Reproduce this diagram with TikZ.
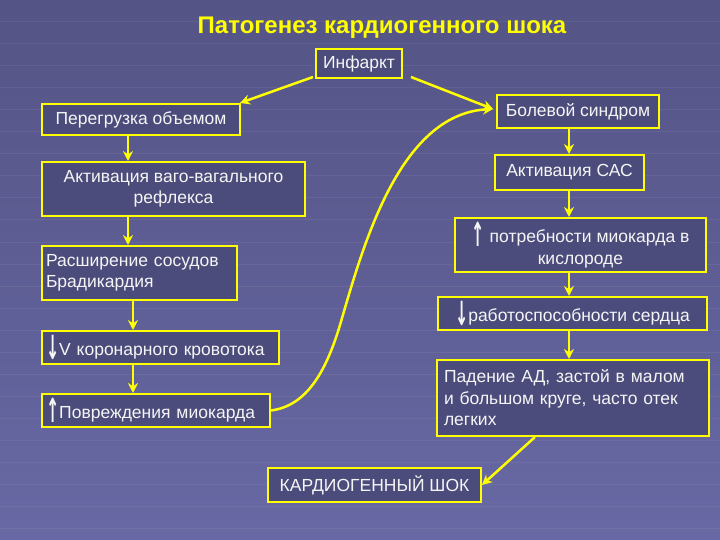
\documentclass[tikz,border=0pt]{standalone}
\usepackage{fontspec}
\setmainfont{Liberation Sans}
\newfontfamily\arrfont{DejaVu Sans}
\usetikzlibrary{arrows.meta}
\definecolor{bgtop}{RGB}{84,84,134}
\definecolor{bgbot}{RGB}{104,104,164}
\definecolor{boxfill}{RGB}{76,76,124}
\definecolor{ylw}{RGB}{255,255,0}
\definecolor{txt}{RGB}{245,245,245}
\tikzset{
  box/.style={draw=ylw, line width=2pt, fill=boxfill, text=txt, inner sep=3pt,
    font=\fontsize{17.5}{21.5}\selectfont, align=center},
  lbox/.style={box, align=left},
  conn/.style={draw=ylw, line width=2.5pt, -{Stealth[length=10pt,width=10pt]}}
}
\newcommand{\upa}{\raisebox{-4pt}{\scalebox{0.9}[1.9]{\arrfont\bfseries↑}}}
\newcommand{\dna}{\raisebox{-4pt}{\scalebox{0.9}[1.9]{\arrfont\bfseries↓}}}
\begin{document}
\begin{tikzpicture}[x=1pt,y=-1pt]
\shade[top color=bgtop, bottom color=bgbot] (0,0) rectangle (720,540);
\useasboundingbox (0,0) rectangle (720,540);
% faint background grid
\foreach \yy in {22,44,...,530} {
  \draw[white, opacity=0.06, line width=1pt] (0,\yy) -- (720,\yy);
}
\node[text=ylw, font=\bfseries\fontsize{24}{28}\selectfont] (title) at (382,28) {Патогенез кардиогенного шока};

\node[box, minimum width=86pt, minimum height=29pt] (inf) at (359,63.5) {Инфаркт};
\node[box, minimum width=198pt, minimum height=31pt] (per) at (141,119.5) {Перегрузка объемом};
\node[box, minimum width=162pt, minimum height=33pt] (bol) at (578,111.5) {Болевой синдром};
\node[box, minimum width=263pt, minimum height=54pt] (vag) at (173.5,189) {Активация ваго-вагального\\рефлекса};
\node[box, minimum width=149pt, minimum height=35pt] (sas) at (569.5,172.5) {Активация САС};
\node[box, minimum width=251pt, minimum height=54pt] (potr) at (580.5,245) {\upa\ потребности миокарда в\\кислороде};
\node[lbox, minimum width=195pt, minimum height=54pt, text width=187pt] (ras) at (139.5,273) {Расширение сосудов\\Брадикардия};
\node[box, minimum width=269pt, minimum height=33pt] (rab) at (572.5,313.5) {\dna работоспособности сердца};
\node[lbox, minimum width=237pt, minimum height=33pt, text width=229pt] (kor) at (160.5,347.5) {\dna V коронарного кровотока};
\node[lbox, minimum width=272pt, minimum height=76pt, text width=258pt] (pad) at (573,398) {Падение АД, застой в малом\\и большом круге, часто отек\\легких};
\node[lbox, minimum width=228pt, minimum height=33pt, text width=220pt] (pov) at (156,410.5) {\upa Повреждения миокарда};
\node[box, minimum width=213pt, minimum height=34pt] (shok) at (374.5,485) {КАРДИОГЕННЫЙ ШОК};

% connectors
\coordinate (inl) at (313,77);
\coordinate (inr) at (411,77);
\coordinate (perTip) at (240,103);
\coordinate (bolTip) at (493,109);
\draw[conn] (inl) -- (perTip);
\draw[conn] (inr) -- (bolTip);

\draw[conn] (per.south -| 128,0) -- (vag.north -| 128,0);
\draw[conn] (vag.south -| 128,0) -- (ras.north -| 128,0);
\draw[conn] (ras.south -| 133,0) -- (kor.north -| 133,0);
\draw[conn] (kor.south -| 133,0) -- (pov.north -| 133,0);

\draw[conn] (bol.south -| 569,0) -- (sas.north -| 569,0);
\draw[conn] (sas.south -| 569,0) -- (potr.north -| 569,0);
\draw[conn] (potr.south -| 569,0) -- (rab.north -| 569,0);
\draw[conn] (rab.south -| 569,0) -- (pad.north -| 569,0);

\coordinate (padout) at (535,437);
\draw[conn] (padout) -- (shok.east);

\coordinate (mid) at (340,325);
\draw[conn] (pov.east) .. controls (305,406) and (325,375) .. (mid)
  .. controls (362,250) and (398,114) .. (bolTip);
\end{tikzpicture}
\end{document}
